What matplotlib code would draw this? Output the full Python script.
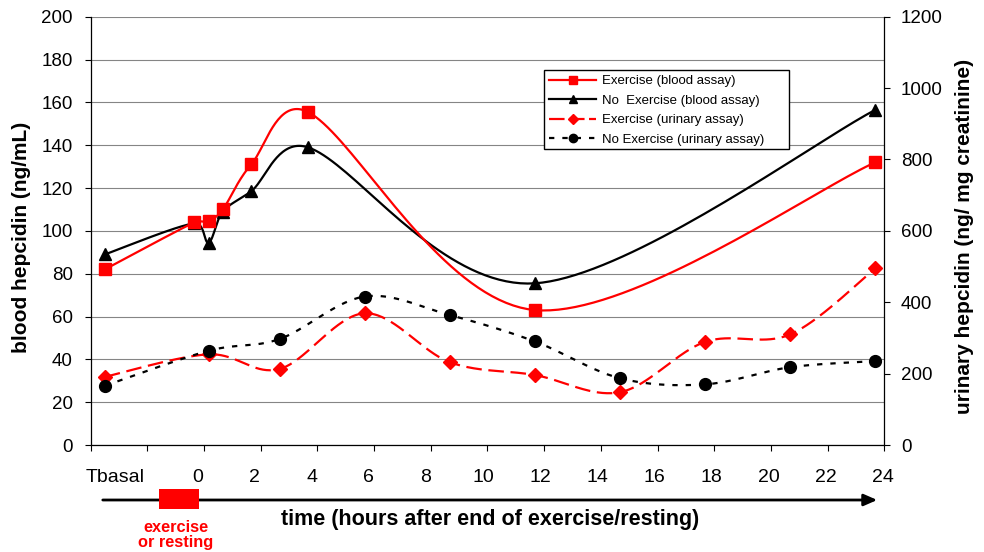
import numpy as np
import matplotlib
matplotlib.use('Agg')
import matplotlib.pyplot as plt
import matplotlib.patches as patches
from matplotlib.lines import Line2D

plt.rcParams['font.family'] = ['Liberation Sans', 'DejaVu Sans']

# ---- data ----
T_BASAL = -3.16   # position of the basal sample on the hour axis

blood_hours = [T_BASAL, 0, 0.5, 1, 2, 4, 12, 24]
ex_blood    = [82, 104, 104.5, 110, 131, 155.5, 63, 132]
noex_blood  = [89, 103.5, 94.5, 109, 118.5, 139, 75.5, 156.5]

urine_hours = [T_BASAL, 0.5, 3, 6, 9, 12, 15, 18, 21, 24]
ex_urine    = [191, 254, 213, 369, 232, 196, 148, 289, 310, 495]
noex_urine  = [166, 264, 297, 416, 364, 290, 187, 170, 218, 235]

tick_labels = ['Tbasal', '0', '2', '4', '6', '8', '10', '12', '14', '16', '18', '20', '22', '24']
tick_hours  = [None, 0, 2, 4, 6, 8, 10, 12, 14, 16, 18, 20, 22, 24]

W, H = 984, 552
PX_PER_HOUR = 28.375
PX_PER_LEFT = 2.14
PX_PER_RIGHT = 0.3569


def fx(px):
    return px / W


def fy(py):
    return 1 - py / H


def excel_smooth(xs, ys, sy_px, n=40, clamp=0.45):
    # Bezier smoothing like Excel's "smoothed line"; work in screen pixels
    p = np.column_stack([np.asarray(xs) * PX_PER_HOUR, np.asarray(ys) * sy_px]).astype(float)
    p = np.vstack([p[0], p, p[-1]])
    out = [p[1]]
    t = np.linspace(0, 1, n)[1:, None]
    for i in range(1, len(p) - 2):
        p0, p1, p2, p3 = p[i - 1], p[i], p[i + 1], p[i + 2]
        seg = np.hypot(*(p2 - p1))
        d1 = (p2 - p0) / 6
        d2 = (p3 - p1) / 6
        for d in (d1, d2):
            L = np.hypot(*d)
            if L > clamp * seg:
                d *= clamp * seg / L
        c1 = p1 + d1
        c2 = p2 - d2
        curve = (1 - t)**3 * p1 + 3 * (1 - t)**2 * t * c1 + 3 * (1 - t) * t**2 * c2 + t**3 * p2
        out.extend(curve)
    out = np.array(out)
    return out[:, 0] / PX_PER_HOUR, out[:, 1] / sy_px


fig = plt.figure(figsize=(9.84, 5.52), dpi=100)
ax = fig.add_axes([fx(90.7), fy(445), (884.3 - 90.7) / W, (445 - 16.7) / H])
ax2 = ax.twinx()

# axis ranges
x_left, x_right = -3.658, 24.31
ax.set_xlim(x_left, x_right)
ax.set_ylim(0, 200)
ax2.set_ylim(0, 1200)

# grid
ax.set_yticks(np.arange(0, 201, 20))
ax.yaxis.grid(True, color='#858585', linewidth=0.8)
ax.set_axisbelow(True)

# x ticks: marks are minor ticks, labels are major ticks without marks
ax.set_xticks([x_left + 1.9979 * k for k in range(15)], minor=True)
lab_pos = [-2.8 if h is None else 0.1 + 1.0065 * h for h in tick_hours]
ax.set_xticks(lab_pos)
ax.set_xticklabels(tick_labels, fontsize=14)
ax.tick_params(axis='x', which='major', length=0, pad=17)
ax.tick_params(axis='x', which='minor', length=4, width=0.8, direction='out')
ax.tick_params(axis='y', length=4, width=0.8, labelsize=13.5, pad=9)
ax2.set_yticks(np.arange(0, 1201, 200))
ax2.tick_params(axis='y', length=4, width=0.8, labelsize=13.5, pad=8)

for a in (ax, ax2):
    a.spines['top'].set_visible(False)
    for s in a.spines.values():
        s.set_linewidth(0.9)
ax.spines['right'].set_visible(False)
ax2.spines['left'].set_visible(False)
ax2.spines['bottom'].set_visible(False)

# blood series (left axis)
lw = 1.6
sx, sy = excel_smooth(blood_hours, noex_blood, PX_PER_LEFT)
ax.plot(sx, sy, color='black', lw=lw, zorder=3)
ax.plot(blood_hours, noex_blood, ls='none', marker='^', ms=9, color='black', zorder=4)
sx, sy = excel_smooth(blood_hours, ex_blood, PX_PER_LEFT)
ax.plot(sx, sy, color='red', lw=lw, zorder=3)
ax.plot(blood_hours, ex_blood, ls='none', marker='s', ms=8.7, color='red', zorder=4)

# urinary series (right axis)
sx, sy = excel_smooth(urine_hours, ex_urine, PX_PER_RIGHT)
ax2.plot(sx, sy, color='red', lw=lw, dashes=(7, 3))
ax2.plot(urine_hours, ex_urine, ls='none', marker='D', ms=7, color='red')
sx, sy = excel_smooth(urine_hours, noex_urine, PX_PER_RIGHT)
ax2.plot(sx, sy, color='black', lw=lw, dashes=(2.4, 3.6))
ax2.plot(urine_hours, noex_urine, ls='none', marker='o', ms=8.5, color='black')

# legend (Excel-style box, wider than its text)
fig.add_artist(patches.Rectangle(
    (fx(544), fy(149.5)), (789 - 544) / W, (149.5 - 70) / H,
    transform=fig.transFigure, facecolor='white', edgecolor='black',
    linewidth=1.0, zorder=4))
handles = [
    Line2D([], [], color='red', lw=lw, marker='s', ms=6),
    Line2D([], [], color='black', lw=lw, marker='^', ms=6),
    Line2D([], [], color='red', lw=lw, marker='D', ms=5, dashes=(7, 2)),
    Line2D([], [], color='black', lw=lw, marker='o', ms=6, dashes=(2.4, 3.6)),
]
labels = ['Exercise (blood assay)', 'No  Exercise (blood assay)',
          'Exercise (urinary assay)', 'No Exercise (urinary assay)']
leg = fig.legend(handles, labels, loc='upper left',
                 bbox_to_anchor=(fx(545), fy(71)), bbox_transform=fig.transFigure,
                 fontsize=9.5, frameon=False,
                 handlelength=3.6, labelspacing=0.55, borderaxespad=0,
                 borderpad=0.3, handletextpad=0.4)
leg.set_zorder(5)

# axis titles
fig.text(fx(22), fy(237), 'blood hepcidin (ng/mL)', rotation=90, fontsize=15,
         fontweight='bold', ha='center', va='center')
fig.text(fx(964), fy(236), 'urinary hepcidin (ng/ mg creatinine)', rotation=90,
         fontsize=15, fontweight='bold', ha='center', va='center')

# time arrow below the axis
fig.add_artist(patches.FancyArrowPatch(
    (fx(100), fy(500)), (fx(880), fy(500)), transform=fig.transFigure,
    arrowstyle='-|>,head_length=8,head_width=3.5', mutation_scale=1,
    color='black', lw=2))
fig.add_artist(patches.Rectangle(
    (fx(159), fy(509.3)), (199.3 - 159) / W, (509.3 - 489) / H,
    transform=fig.transFigure, facecolor='red', edgecolor='none'))
fig.text(fx(490), fy(519), 'time (hours after end of exercise/resting)',
         fontsize=15.5, fontweight='bold', ha='center', va='center')
fig.text(fx(176), fy(535), 'exercise\nor resting', color='red', fontsize=11.8,
         fontweight='bold', ha='center', va='center', linespacing=1.0)

fig.savefig('out.png', dpi=100)
